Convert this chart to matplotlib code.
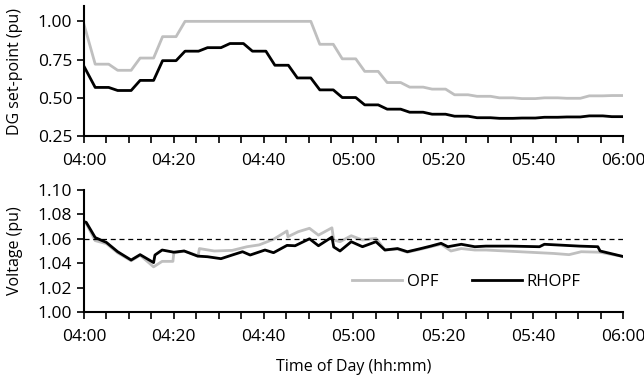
import matplotlib
matplotlib.use("Agg")
import matplotlib.pyplot as plt
from matplotlib.ticker import FixedLocator, MultipleLocator

plt.rcParams['font.family'] = ['Open Sans', 'DejaVu Sans']

# minutes after 04:00
tick_minutes = [0, 20, 40, 60, 80, 100, 120]
tick_labels = ["04:00", "04:20", "04:40", "05:00", "05:20", "05:40", "06:00"]

# DG set-points, one value per 5-minute dispatch interval (plus the value at 04:00)
sp_start_opf = 0.98
sp_start_rhopf = 0.706
sp_opf = [0.72, 0.68, 0.76, 0.90, 1.00, 1.00, 1.00, 1.00, 1.00, 1.00,
          0.85, 0.755, 0.673, 0.60, 0.57, 0.557, 0.52, 0.51, 0.50, 0.495,
          0.50, 0.497, 0.513, 0.515]
sp_rhopf = [0.568, 0.548, 0.614, 0.743, 0.805, 0.828, 0.855, 0.805, 0.713, 0.63,
            0.552, 0.502, 0.454, 0.426, 0.406, 0.393, 0.38, 0.37, 0.366, 0.368,
            0.373, 0.375, 0.382, 0.377]

# bus voltage
v_time_opf = [0, 0.5, 2.5, 5, 7.5, 10.5, 12.5, 15.5, 17.4, 19.8, 20, 22.3, 25.4, 25.7,
              29, 33, 36.3, 39, 42.2, 45.2, 45.4, 47.7, 50.2, 52.2, 55.2, 55.6, 57,
              59.5, 62, 65, 67, 69.8, 72, 75, 77.2, 79.5, 81.7, 84, 87, 89.5, 97,
              104.5, 108, 110.7, 114.8, 120]
v_opf = [1.072, 1.0725, 1.0585, 1.056, 1.0485, 1.042, 1.0465, 1.037, 1.0415, 1.0415,
         1.0484, 1.050, 1.046, 1.052, 1.050, 1.0505, 1.0535, 1.055, 1.0596, 1.0664,
         1.0617, 1.0658, 1.0686, 1.063, 1.069, 1.059, 1.0576, 1.0625, 1.059, 1.0604,
         1.0508, 1.0515, 1.049, 1.0515, 1.0535, 1.0555, 1.050, 1.052, 1.0508, 1.0508,
         1.0494, 1.048, 1.047, 1.0494, 1.049, 1.0455]
v_time_rhopf = [0, 0.5, 2.5, 5, 7.5, 10.5, 12.5, 15.5, 15.8, 17.4, 20, 22.3, 25.3, 27.5,
                30.5, 33, 35.3, 37, 40.3, 42.2, 45.2, 47, 50.2, 52.2, 55.2, 55.6, 57,
                59.5, 62, 65, 67, 69.8, 72, 75, 77.2, 79.5, 81, 84, 87, 89.5, 95,
                101.4, 102.5, 110.3, 114.4, 114.9, 120]
v_rhopf = [1.074, 1.0735, 1.061, 1.057, 1.0494, 1.0426, 1.047, 1.0405, 1.0467, 1.0508,
           1.049, 1.050, 1.0458, 1.0453, 1.0437, 1.0467, 1.0494, 1.0467, 1.0508, 1.0486,
           1.0546, 1.0543, 1.060, 1.0543, 1.0614, 1.0533, 1.050, 1.0576, 1.0535, 1.0576,
           1.0508, 1.052, 1.0494, 1.052, 1.054, 1.0563, 1.0535, 1.0555, 1.0535, 1.054,
           1.054, 1.0535, 1.0555, 1.054, 1.0535, 1.050, 1.0455]
v_limit = 1.06

GRAY = "#bfbfbf"


def setpoint_path(start, values):
    # each set-point is held for 3 min, then ramps to the next over 2 min
    xs, ys = [0], [start]
    for k, v in enumerate(values):
        xs += [5 * k + 2.5, 5 * k + 5.5]
        ys += [v, v]
    return xs, ys


def style(ax):
    for s in ("top", "right"):
        ax.spines[s].set_visible(False)
    for s in ("left", "bottom"):
        ax.spines[s].set_linewidth(1.5)
    ax.set_xlim(0, 120)
    ax.xaxis.set_major_locator(FixedLocator(tick_minutes))
    ax.set_xticklabels(tick_labels)
    ax.xaxis.set_minor_locator(MultipleLocator(5))
    ax.tick_params(axis="both", which="both", direction="out", width=1.2, labelsize=12.5)
    ax.tick_params(axis="x", which="both", length=5, pad=7)
    ax.tick_params(axis="y", length=5)


fig = plt.figure(figsize=(6.44, 3.78), dpi=100)
ax1 = fig.add_axes([0.1304, 0.640, 0.837, 0.344])
ax2 = fig.add_axes([0.1304, 0.1746, 0.837, 0.3228])

x, y = setpoint_path(sp_start_opf, sp_opf)
ax1.plot(x, y, color=GRAY, lw=2)
x, y = setpoint_path(sp_start_rhopf, sp_rhopf)
ax1.plot(x, y, color="black", lw=2)
style(ax1)
ax1.set_ylim(0.25, 1.1)
ax1.set_yticks([0.25, 0.50, 0.75, 1.00])
ax1.set_yticklabels(["0.25", "0.50", "0.75", "1.00"])
ax1.set_ylabel("DG set-point (pu)", fontsize=11.5)

ax2.plot(v_time_opf, v_opf, color=GRAY, lw=2, label="OPF")
ax2.plot(v_time_rhopf, v_rhopf, color="black", lw=2, label="RHOPF")
ax2.axhline(v_limit, color="black", lw=0.9, ls=(0, (4, 3)))
style(ax2)
ax2.set_ylim(1.00, 1.10)
yt = [1.00, 1.02, 1.04, 1.06, 1.08, 1.10]
ax2.set_yticks(yt)
ax2.set_yticklabels([f"{t:.2f}" for t in yt])
ax2.set_ylabel("Voltage (pu)", fontsize=11.5)
ax2.set_xlabel("Time of Day (hh:mm)", fontsize=11.5, labelpad=10)
ax2.legend(loc="center", bbox_to_anchor=(0.709, 0.246), ncol=2, frameon=False,
           fontsize=12, handlelength=3.0, handletextpad=0.3, columnspacing=2.0)

for ax in (ax1, ax2):
    ax.yaxis.set_label_coords(-0.113, 0.5)

fig.savefig("out.png", dpi=100)
